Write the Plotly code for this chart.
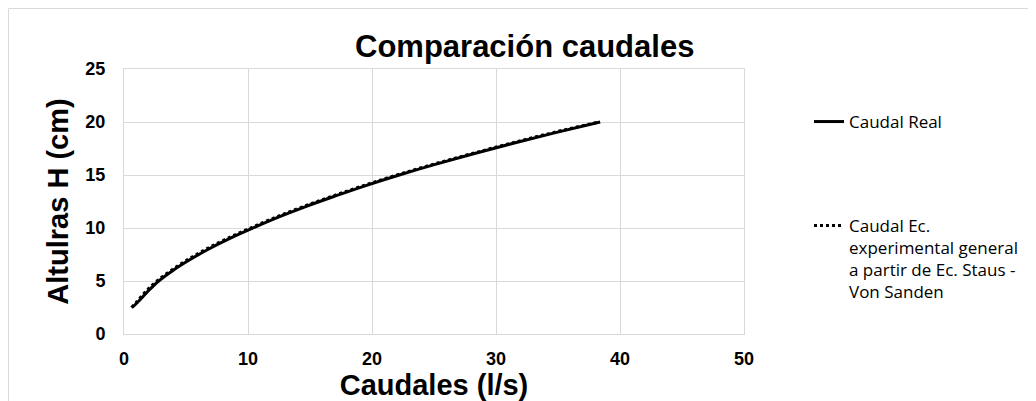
import plotly.graph_objects as go

# Data
alturas_cm = [2.5, 3, 4, 5, 6, 7, 8, 9, 10, 11, 12, 13, 14, 15, 16, 17, 18, 19, 20]
caudal_real = [0.65, 1.1, 1.9, 2.8, 3.95, 5.3, 6.8, 8.5, 10.4, 12.4, 14.6, 17.0, 19.5, 22.2, 25.1, 28.2, 31.4, 34.8, 38.4]
caudal_ec = [0.6, 1.0, 1.75, 2.65, 3.8, 5.1, 6.6, 8.3, 10.2, 12.2, 14.4, 16.8, 19.3, 22.0, 24.9, 28.0, 31.2, 34.6, 38.3]

x_ticks = [0, 10, 20, 30, 40, 50]
y_ticks = [0, 5, 10, 15, 20, 25]

name_real = "Caudal Real"
name_ec = "Caudal Ec.<br>experimental general<br>a partir de Ec. Staus -<br>Von Sanden"

OFF = 8  # page offset of the figure in the browser
W, H = 1036 - OFF, 401 - OFF
# plot area in reference pixel coordinates: x 124..744, y 69..334
L = 124 - OFF
T = 69 - OFF
R = W - (744 - OFF)
B = H - (334 - OFF)
pw, ph = W - L - R, H - T - B

def px_x(p):
    return (p - OFF - L) / pw

def px_y(p):
    return (H - B - (p - OFF)) / ph

fig = go.Figure()
fig.add_trace(go.Scatter(
    x=caudal_real, y=alturas_cm, name=name_real, mode="lines",
    line=dict(color="black", width=3, shape="spline"), legend="legend",
))
fig.add_trace(go.Scatter(
    x=caudal_ec, y=alturas_cm, name=name_ec, mode="lines",
    line=dict(color="black", width=3, dash="dot", shape="spline"), legend="legend2",
))

axis_common = dict(
    showgrid=True, gridcolor="#d9d9d9", gridwidth=1,
    showline=True, linecolor="#d9d9d9", linewidth=1, mirror=True,
    zeroline=False, ticks="",
    tickfont=dict(family="Liberation Sans, Arial", size=18, color="black", weight="bold"),
)

legend_font = dict(family="Open Sans, Lato", size=17, color="black")

fig.update_layout(
    width=W, height=H,
    showlegend=True,
    margin=dict(l=L, r=R, t=T, b=B, autoexpand=False),
    paper_bgcolor="white", plot_bgcolor="white",
    title=dict(
        text="<b>Comparación caudales</b>",
        font=dict(family="Liberation Sans, Arial", size=31, color="black"),
        x=(355 - OFF) / W, xref="container", xanchor="left",
        y=1 - (46 - OFF) / H, yref="container", yanchor="middle",
    ),
    xaxis=dict(
        range=[0, 50], tickvals=x_ticks, ticklabelstandoff=8,
        title=dict(text="<b>Caudales (l/s)</b>", standoff=0,
                   font=dict(family="Liberation Sans, Arial", size=29, color="black")),
        **axis_common,
    ),
    yaxis=dict(
        range=[0, 25], tickvals=y_ticks, ticklabelstandoff=14,
        title=dict(text="<b>Altulras H (cm)</b>", standoff=8,
                   font=dict(family="Liberation Sans, Arial", size=29, color="black")),
        **axis_common,
    ),
    legend=dict(
        x=px_x(809), y=px_y(122), xanchor="left", yanchor="middle",
        font=legend_font, bgcolor="rgba(0,0,0,0)", borderwidth=0,
    ),
    legend2=dict(
        x=px_x(809), y=px_y(208), xanchor="left", yanchor="top", valign="top",
        font=legend_font, bgcolor="rgba(0,0,0,0)", borderwidth=0,
    ),
    shapes=[dict(
        type="rect", xref="paper", yref="paper",
        x0=px_x(8.5), x1=px_x(1045), y0=px_y(410), y1=px_y(8.5),
        line=dict(color="#d9d9d9", width=1), fillcolor="rgba(0,0,0,0)", layer="below",
    )],
)

fig.write_html("out.html")
